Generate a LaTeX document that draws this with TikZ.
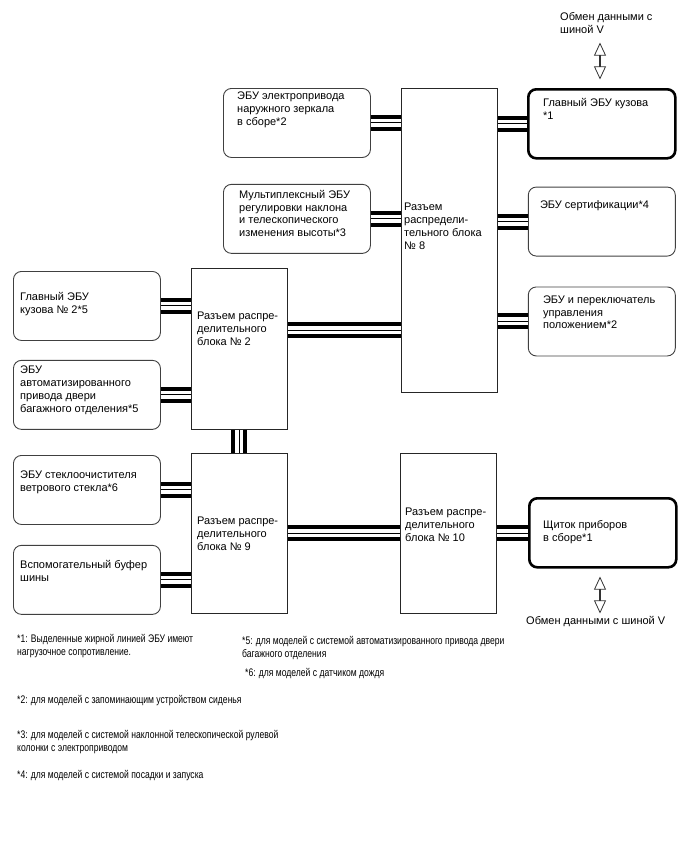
\documentclass[tikz,border=0pt]{standalone}
\usepackage{fontspec}
\setmainfont{Liberation Sans}
\newfontfamily\narrowfont{Liberation Sans}[FakeStretch=0.78]
\usetikzlibrary{positioning,shapes.arrows}

\begin{document}
\begin{tikzpicture}[x=1pt, y=-1pt, font=\fontsize{11}{12.8}\selectfont,
    ecu/.style = {draw=black!75, line width=0.9pt, rounded corners=8pt, minimum width=147pt, minimum height=69pt, inner sep=0pt, anchor=north west},
    key/.style = {ecu, draw=black, line width=2.6pt},
    blk/.style = {draw=black!85, line width=0.9pt, inner sep=0pt, minimum width=96pt, anchor=north west},
    tag/.style = {anchor=north west, align=left, inner sep=0pt},
    bus/.style = {draw=black, line width=16pt, postaction={draw=white, line width=8pt}, postaction={draw=black, line width=1pt}},
    xchg/.style = {draw=black!80, line width=0.8pt, double arrow, shape border rotate=90, double arrow tip angle=50, double arrow head extend=3.5pt, minimum width=11pt, minimum height=35pt, inner sep=0pt},
    foot/.style = {anchor=north west, align=left, inner sep=0pt, font=\narrowfont\fontsize{11}{12.8}\selectfont}]
    \useasboundingbox (0,0) rectangle (688,852);

    % blocks
    \node[blk, minimum height=304pt] (blk8) at (401,88) {};
    \node[blk, minimum height=161pt] (blk2) at (191,268) {};
    \node[blk, minimum height=160pt] (blk9) at (191,453) {};
    \node[blk, minimum height=160pt] (blk10) at (400,453) {};
    \node[tag] (blk8txt) at (404,203) {Разъем\\распредели-\\тельного блока\\№ 8};
    \node[tag] (blk2txt) at (197,312) {Разъем распре-\\делительного\\блока № 2};
    \node[tag] (blk9txt) at (197,517) {Разъем распре-\\делительного\\блока № 9};
    \node[tag] (blk10txt) at (405,508) {Разъем распре-\\делительного\\блока № 10};

    % ECUs
    \node[ecu, label={[tag, shift={(14pt,-4pt)}]north west:ЭБУ электропривода\\наружного зеркала\\в сборе*2}] (mirror) at (223,88) {};
    \node[ecu, below=26pt of mirror, label={[tag, shift={(16pt,-6pt)}]north west:Мультиплексный ЭБУ\\регулировки наклона\\и телескопического\\изменения высоты*3}] (tilt) {};
    \node[key, label={[tag, shift={(16pt,-10pt)}]north west:Главный ЭБУ кузова\\*1}] (body) at (527,88) {};
    \node[ecu, below=27pt of body, label={[tag, shift={(12pt,-14pt)}]north west:ЭБУ сертификации*4}] (cert) {};
    \node[ecu, below=30pt of cert, label={[tag, shift={(15pt,-9pt)}]north west:ЭБУ и переключатель\\управления\\положением*2}] (pos) {};
    \node[ecu, label={[tag, shift={(7pt,-21pt)}]north west:Главный ЭБУ\\кузова № 2*5}] (body2) at (13,271) {};
    \node[ecu, below=19pt of body2, label={[tag, shift={(7pt,-6pt)}]north west:ЭБУ\\автоматизированного\\привода двери\\багажного отделения*5}] (gate) {};
    \node[ecu, label={[tag, shift={(7pt,-16pt)}]north west:ЭБУ стеклоочистителя\\ветрового стекла*6}] (wiper) at (13,455) {};
    \node[ecu, below=20pt of wiper, label={[tag, shift={(7pt,-15pt)}]north west:Вспомогательный буфер\\шины}] (buffer) {};
    \node[key, label={[tag, shift={(15pt,-23pt)}]north west:Щиток приборов\\в сборе*1}] (dash) at (528,497) {};

    % bus V
    \node[tag] (vtop) at (560,12) {Обмен данными с\\шиной V};
    \node[xchg] (vtoparr) at (600,61) {};
    \node[xchg] (vbotarr) at (600,595) {};
    \node[tag] (vbot) at (526,616) {Обмен данными с шиной V};

    % lines
    \coordinate (p2) at ([yshift=18.5pt]blk2.east);
    \draw[bus] (mirror.east) -- (mirror.east -| blk8.west);
    \draw[bus] (blk8.east |- body.west) -- (body.west);
    \draw[bus] (tilt.east) -- (tilt.east -| blk8.west);
    \draw[bus] (blk8.east |- cert.west) -- (cert.west);
    \draw[bus] (blk8.east |- pos.west) -- (pos.west);
    \draw[bus] (body2.east) -- (body2.east -| blk2.west);
    \draw[bus] (gate.east) -- (gate.east -| blk2.west);
    \draw[bus] (p2) -- (p2 -| blk8.west);
    \draw[bus] (blk2.south) -- (blk9.north);
    \draw[bus] (wiper.east) -- (wiper.east -| blk9.west);
    \draw[bus] (buffer.east) -- (buffer.east -| blk9.west);
    \draw[bus] (blk9.east) -- (blk10.west);
    \draw[bus] (blk10.east) -- (blk10.east -| dash.west);

    % notes
    \node[foot] (n1) at (17,634) {*1: Выделенные жирной линией ЭБУ имеют\\нагрузочное сопротивление.};
    \node[foot] (n5) at (242,636) {*5: для моделей с системой автоматизированного привода двери\\багажного отделения};
    \node[foot] (n6) at (245,668) {*6: для моделей с датчиком дождя};
    \node[foot] (n2) at (17,695) {*2: для моделей с запоминающим устройством сиденья};
    \node[foot] (n3) at (17,730) {*3: для моделей с системой наклонной телескопической рулевой\\колонки с электроприводом};
    \node[foot] (n4) at (17,770) {*4: для моделей с системой посадки и запуска};
\end{tikzpicture}
\end{document}
